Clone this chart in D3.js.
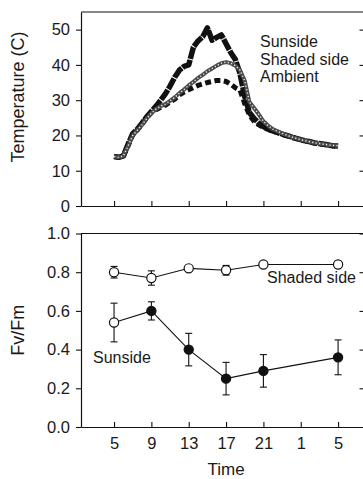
<!DOCTYPE html>
<html>
<head>
<meta charset="utf-8">
<script src="https://cdn.jsdelivr.net/npm/d3@7"></script>
<style>
  body { margin: 0; background: #fff; }
  svg text { font-family: "Liberation Sans", Arial, sans-serif; fill: #1a1a1a; }
</style>
</head>
<body>
<div id="chart"></div>
<script>
// temperature logger, half-hour readings (hour of day, 25 = 1 am next day)
const hours = [5, 5.5, 6, 6.5, 7, 7.5, 8, 8.5, 9, 9.5, 10, 10.5, 11, 11.5, 12, 12.5,
  13, 13.5, 14, 14.5, 15, 15.5, 16, 16.5, 17, 17.5, 18, 18.5, 19, 19.5, 20, 20.5,
  21, 21.5, 22, 22.5, 23, 23.5, 24, 24.5, 25, 25.5, 26, 26.5, 27, 27.5, 28, 28.5, 29]
const sunside = [14.0, 13.8, 14.2, 17.5, 20.5, 21.8, 23.5, 25.3, 26.8, 28.3, 30.0, 31.8,
  34.0, 36.5, 38.5, 39.6, 40.0, 45.0, 46.8, 48.0, 50.5, 47.0, 47.8, 48.5, 46.0, 43.5,
  41.5, 37.5, 31.0, 26.5, 24.8, 23.5, 22.5, 21.8, 21.3, 20.9, 20.4, 20.0, 19.6, 19.2,
  18.8, 18.5, 18.2, 17.9, 17.7, 17.5, 17.3, 17.1, 17.0]
const shadedSide = [14.0, 13.8, 14.2, 17.0, 20.0, 21.5, 23.0, 24.8, 26.3, 27.5, 28.3, 28.9,
  29.8, 30.8, 32.0, 33.0, 34.2, 35.2, 36.3, 37.2, 38.2, 39.0, 39.8, 40.5, 40.8, 40.5,
  39.8, 38.5, 35.5, 29.5, 27.8, 26.0, 24.0, 22.8, 21.8, 21.2, 20.6, 20.1, 19.6, 19.2,
  18.8, 18.5, 18.2, 17.9, 17.7, 17.5, 17.3, 17.2, 17.1]
const ambient = [14.0, 13.8, 14.2, 17.0, 20.2, 21.6, 23.2, 25.0, 26.5, 27.3, 28.0, 28.6,
  29.5, 30.3, 31.5, 32.3, 33.0, 33.6, 34.2, 34.6, 35.0, 35.3, 35.6, 35.6, 35.3, 34.5,
  33.5, 32.8, 29.0, 25.8, 24.0, 23.0, 22.3, 21.7, 21.2, 20.8, 20.3, 19.9, 19.5, 19.1,
  18.7, 18.4, 18.1, 17.8, 17.6, 17.4, 17.2, 17.0, 16.9]

// Fv/Fm means and error bars
const fvHours = [5, 9, 13, 17, 21, 29]
const fvShaded = [0.80, 0.77, 0.82, 0.81, 0.84, 0.84]
const fvShadedErr = [0.03, 0.037, 0.008, 0.025, 0.005, 0.005]
const fvSunside = [0.54, 0.60, 0.40, 0.25, 0.29, 0.36]
const fvSunsideErr = [0.10, 0.047, 0.084, 0.084, 0.084, 0.09]

const timeTicks = [5, 9, 13, 17, 21, 25, 29]
const timeLabels = ['5', '9', '13', '17', '21', '1', '5']
const tempTicks = [0, 10, 20, 30, 40, 50]
const fvTicks = [0, 0.2, 0.4, 0.6, 0.8, 1.0]

const chart = {
  width: 363,
  height: 479,
  left: 81,
  right: 364.5,
  top: { y0: 12, y1: 206 },
  bottom: { y0: 233.5, y1: 427 },
  x: null,
  draw(body) {
    const svg = d3.select(body).append('svg')
      .attr('width', this.width)
      .attr('height', this.height)
      .attr('viewBox', `0 0 ${this.width} ${this.height}`)
      .attr('xmlns', 'http://www.w3.org/2000/svg')

    this.x = d3.scaleLinear().domain([1.46, 31.83]).range([this.left, this.right])

    this.drawTemperature(svg)
    this.drawFluorescence(svg)
  },
  frame(svg, y, ticks, fmt, showLabels) {
    const x = this.x
    svg.append('g')
      .attr('transform', `translate(${this.left},0)`)
      .call(d3.axisLeft(y).tickValues(ticks).tickFormat(fmt).tickSize(5).tickPadding(6).tickSizeOuter(0))
    svg.append('g')
      .attr('transform', `translate(${this.right},0)`)
      .call(d3.axisRight(y).tickValues(ticks.slice(1)).tickFormat('').tickSize(-5).tickSizeOuter(0))
    svg.append('g')
      .attr('transform', `translate(0,${y.range()[0]})`)
      .call(d3.axisBottom(x).tickValues(timeTicks)
        .tickFormat((d, i) => showLabels ? timeLabels[i] : '')
        .tickSize(-5).tickPadding(10).tickSizeOuter(0))
    svg.append('line')
      .attr('x1', this.left).attr('x2', this.right)
      .attr('y1', y.range()[1]).attr('y2', y.range()[1])
      .attr('stroke', '#111').attr('stroke-width', 1.2)
    svg.selectAll('.domain').attr('stroke', '#111').attr('stroke-width', 1.2)
    svg.selectAll('.tick line').attr('stroke', '#111').attr('stroke-width', 1.1)
    svg.selectAll('.tick text').attr('font-size', 16.5).attr('fill', '#1a1a1a')
      .style('font-family', '"Liberation Sans", Arial, sans-serif')
  },
  drawTemperature(svg) {
    const x = this.x
    const y = d3.scaleLinear().domain([0, 55]).range([this.top.y1, this.top.y0])
    this.frame(svg, y, tempTicks, d3.format('d'), false)

    const line = vals => d3.line()
      .x((d, i) => x(hours[i]))
      .y(d => y(d))(vals)

    svg.append('path').attr('d', line(sunside))
      .attr('fill', 'none').attr('stroke', '#111').attr('stroke-width', 5.5)
      .attr('stroke-dasharray', '12,1').attr('stroke-linejoin', 'round')
    svg.append('path').attr('d', line(ambient))
      .attr('fill', 'none').attr('stroke', '#111').attr('stroke-width', 5)
      .attr('stroke-dasharray', '6,3.5').attr('stroke-linejoin', 'round')
    svg.append('path').attr('d', line(shadedSide))
      .attr('fill', 'none').attr('stroke', '#4a4a4a').attr('stroke-width', 4)
      .attr('stroke-linejoin', 'round')
    svg.append('path').attr('d', line(shadedSide))
      .attr('fill', 'none').attr('stroke', '#eee').attr('stroke-width', 1.4)
      .attr('stroke-dasharray', '1.2,2.3')

    const legend = ['Sunside', 'Shaded side', 'Ambient']
    svg.selectAll('.legend').data(legend).enter().append('text')
      .attr('x', 260)
      .attr('y', (d, i) => 47 + i * 17.5)
      .attr('font-size', 16)
      .text(d => d)

    svg.append('text')
      .attr('transform', `translate(24,${(this.top.y0 + this.top.y1) / 2 - 12}) rotate(-90)`)
      .attr('text-anchor', 'middle')
      .attr('font-size', 18)
      .text('Temperature (C)')
  },
  drawFluorescence(svg) {
    const x = this.x
    const y = d3.scaleLinear().domain([0, 1]).range([this.bottom.y1, this.bottom.y0])
    this.frame(svg, y, fvTicks, d3.format('.1f'), true)

    const line = d3.line().x((d, i) => x(fvHours[i])).y(d => y(d))
    const series = [
      { mean: fvShaded, err: fvShadedErr, open: () => true },
      { mean: fvSunside, err: fvSunsideErr, open: i => i === 0 }
    ]
    series.forEach(s => {
      const g = svg.append('g')
      g.append('path').attr('d', line(s.mean))
        .attr('fill', 'none').attr('stroke', '#111').attr('stroke-width', 1.1)
      const bars = g.selectAll('.bar').data(s.mean).enter().append('g')
      bars.append('line')
        .attr('x1', (d, i) => x(fvHours[i])).attr('x2', (d, i) => x(fvHours[i]))
        .attr('y1', (d, i) => y(d + s.err[i])).attr('y2', (d, i) => y(d - s.err[i]))
        .attr('stroke', '#111').attr('stroke-width', 1.1)
      ;[1, -1].forEach(sign => {
        bars.append('line')
          .attr('x1', (d, i) => x(fvHours[i]) - 3.5).attr('x2', (d, i) => x(fvHours[i]) + 3.5)
          .attr('y1', (d, i) => y(d + sign * s.err[i])).attr('y2', (d, i) => y(d + sign * s.err[i]))
          .attr('stroke', '#111').attr('stroke-width', 1.1)
      })
      bars.append('circle')
        .attr('cx', (d, i) => x(fvHours[i]))
        .attr('cy', d => y(d))
        .attr('r', 4.6)
        .attr('fill', (d, i) => s.open(i) ? '#fff' : '#111')
        .attr('stroke', '#111').attr('stroke-width', 1.2)
    })

    svg.append('text').attr('x', 267).attr('y', 283).attr('font-size', 16).text('Shaded side')
    svg.append('text').attr('x', 93).attr('y', 363).attr('font-size', 16).text('Sunside')

    svg.append('text')
      .attr('transform', `translate(24,${(this.bottom.y0 + this.bottom.y1) / 2}) rotate(-90)`)
      .attr('text-anchor', 'middle')
      .attr('font-size', 18)
      .text('Fv/Fm')
    svg.append('text')
      .attr('x', (x(5) + x(29)) / 2)
      .attr('y', 475)
      .attr('text-anchor', 'middle')
      .attr('font-size', 17)
      .text('Time')
  }
}

chart.draw('#chart')
</script>
</body>
</html>
